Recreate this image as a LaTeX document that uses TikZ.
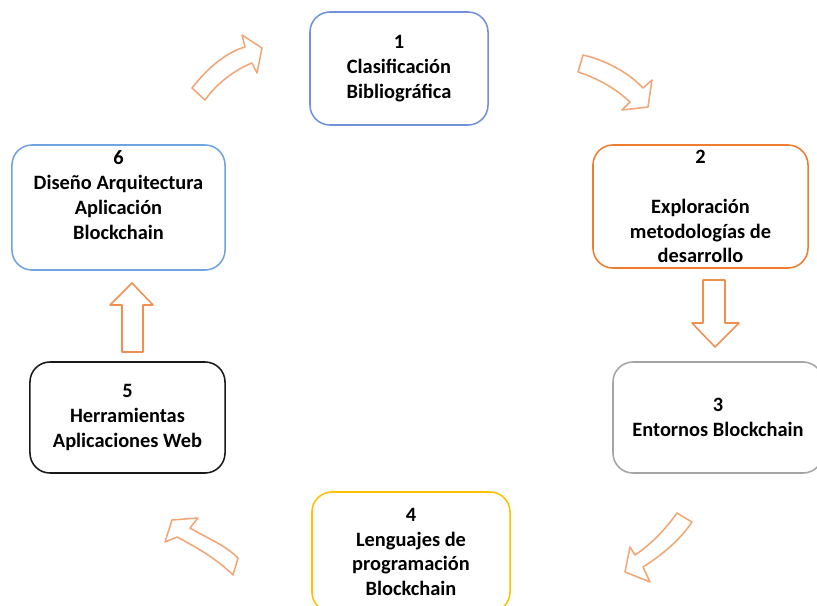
\documentclass[tikz,border=0pt]{standalone}
\usepackage{fontspec}
\setmainfont{Carlito}
\usepackage{tikz}
\usetikzlibrary{positioning}

\definecolor{azul}{RGB}{114,144,220}
\definecolor{naranja}{RGB}{237,125,49}
\definecolor{gris}{RGB}{165,165,165}
\definecolor{amarillo}{RGB}{255,192,0}
\definecolor{celeste}{RGB}{112,164,222}
\definecolor{flecha}{RGB}{240,166,118}

\begin{document}
\begin{tikzpicture}[x=0.025cm, y=-0.025cm,
    caja/.style={draw, line width=1.1pt, rounded corners=0.5cm, align=center,
        font=\fontsize{14.5}{17.7}\selectfont\bfseries, inner sep=0pt},
    bloque/.style={draw=flecha, line width=1.1pt, line join=round, fill=white}]
    \useasboundingbox (0,0) rectangle (817,606);

    % Cajas
    \node[caja, draw=azul, minimum width=4.45cm, minimum height=2.825cm] (b1) at (399,68.5)
        {1\\Clasificación\\Bibliográfica};
    \node[caja, draw=naranja, minimum width=5.375cm, minimum height=3.075cm] (b2) at (700.5,206.5)
        {2\\\mbox{}\\Exploración\\metodologías de\\desarrollo};
    \node[caja, draw=gris, minimum width=5.25cm, minimum height=2.775cm] (b3) at (718,417.5)
        {3\\Entornos Blockchain};
    \node[caja, draw=amarillo, minimum width=4.95cm, minimum height=3cm] (b4) at (411,552)
        {4\\Lenguajes de\\programación\\Blockchain};
    \node[caja, draw=black!90, minimum width=4.875cm, minimum height=2.775cm] (b5) at (127.5,417.5)
        {5\\Herramientas\\Aplicaciones Web};
    \node[caja, draw=celeste, minimum width=5.325cm, minimum height=3.125cm] (b6) at (118.5,207.5)
        {6\\Diseño Arquitectura\\Aplicación\\Blockchain\\\mbox{}};

    % Flechas curvas
    \draw[bloque] (192,88) .. controls (210,65) and (228,52) .. (245,47) -- (242,35) -- (262,48)
        -- (257,73) -- (252,63) .. controls (235,70) and (218,82) .. (205,100) -- cycle;
    \draw[bloque] (583,55) .. controls (605,60) and (628,72) .. (643,88) -- (652,80) -- (648,107)
        -- (622,110) -- (630,102) .. controls (615,88) and (597,78) .. (578,72) -- cycle;
    \draw[bloque] (677,513) .. controls (665,530) and (650,545) .. (635,555) -- (630,547) -- (625,572)
        -- (650,582) -- (643,567) .. controls (662,555) and (680,540) .. (692,522) -- cycle;
    \draw[bloque] (172,520) -- (198,518) -- (190,528) .. controls (207,538) and (225,545) .. (238,558)
        -- (233,575) .. controls (218,560) and (198,548) .. (177,537) -- (165,542) -- cycle;

    % Flechas rectas
    \draw[bloque, draw=naranja!85] (703,280) -- (725,280) -- (725,323) -- (739,323) -- (715,347)
        -- (692,323) -- (703,323) -- cycle;
    \draw[bloque, draw=naranja!85] (122,352) -- (143,352) -- (143,305) -- (153,305) -- (132,283)
        -- (110,305) -- (122,305) -- cycle;
\end{tikzpicture}
\end{document}
